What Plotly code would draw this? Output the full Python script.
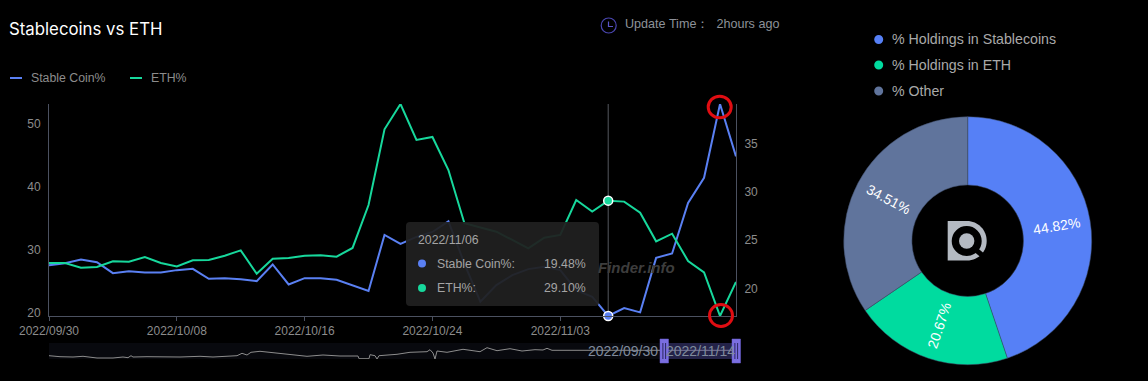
import math
import plotly.graph_objects as go

W, H = 1148, 381

dates = ["2022/09/30", "2022/10/01", "2022/10/02", "2022/10/03", "2022/10/04", "2022/10/05", "2022/10/06",
         "2022/10/07", "2022/10/08", "2022/10/09", "2022/10/10", "2022/10/11", "2022/10/12", "2022/10/13",
         "2022/10/14", "2022/10/15", "2022/10/16", "2022/10/17", "2022/10/18", "2022/10/19", "2022/10/20",
         "2022/10/21", "2022/10/22", "2022/10/23", "2022/10/24", "2022/10/25", "2022/10/26", "2022/10/27",
         "2022/10/28", "2022/10/30", "2022/10/31", "2022/11/02", "2022/11/03", "2022/11/04", "2022/11/05",
         "2022/11/06", "2022/11/07", "2022/11/08", "2022/11/09", "2022/11/10", "2022/11/11", "2022/11/12",
         "2022/11/13", "2022/11/14"]
stable_pct = [27.55, 27.87, 28.45, 28.02, 26.28, 26.60, 26.39, 26.39, 26.76, 26.97, 25.39, 25.49, 25.33, 25.02,
              27.66, 24.49, 25.49, 25.49, 25.23, 24.38, 23.44, 32.35, 30.93, 32.03, 32.82, 34.51, 27.81, 21.75,
              24.38, 25.97, 26.92, 27.29, 26.76, 23.59, 22.54, 19.48, 20.75, 20.06, 28.71, 29.40, 37.41, 41.42,
              53.13, 44.82]
eth_pct = [22.63, 22.63, 22.15, 22.21, 22.80, 22.77, 23.25, 22.63, 22.28, 22.91, 22.94, 23.39, 23.94, 21.52,
           23.08, 23.15, 23.39, 23.43, 23.29, 24.19, 28.65, 36.50, 39.13, 35.40, 35.71, 32.28, 26.75, 26.33,
           25.88, 25.02, 24.15, 25.26, 25.54, 29.17, 27.96, 29.10, 29.00, 27.85, 24.88, 25.67, 22.84, 21.66,
           17.13, 20.67]
x_ticks = ["2022/09/30", "2022/10/08", "2022/10/16", "2022/10/24", "2022/11/03"]
hover_date = "2022/11/06"
overview_pos = [0, 11, 24, 34, 48, 64, 74, 79, 82, 84, 98, 111, 131, 151, 164, 188, 193, 198, 202, 211, 221, 234,
                244, 258, 274, 291, 309, 310, 320, 321, 326, 328, 330, 348, 361, 378, 381, 384, 386, 388, 398,
                414, 431, 438, 448, 461, 473, 486, 494, 498, 503, 523, 539, 606, 687]
overview_val = [3.3, 2.3, 2.0, 2.7, 1.0, 1.0, 2.0, 1.3, 3.3, 2.0, 2.3, 2.0, 2.0, 2.7, 2.0, 3.3, 5.7, 4.0, 6.7, 7.7,
                6.7, 5.0, 4.3, 2.7, 4.0, 3.0, 3.0, 0.3, 0.3, 4.3, 3.3, 0.0, 3.3, 4.7, 6.7, 7.3, 9.3, 6.0, 0.0,
                8.0, 6.7, 9.7, 7.3, 11.3, 8.3, 10.3, 8.0, 9.3, 9.0, 10.7, 8.7, 8.7, 9.0, 9.3, 8.7]
pie_labels = ["% Holdings in Stablecoins", "% Holdings in ETH", "% Other"]
pie_values = [44.82, 20.67, 34.51]

BLUE, GREEN, SLATE = "#5a80f3", "#17d89c", "#60749c"
PIE_GREEN = "#00db9f"
AXIS = "#4b5160"
TICK = "#8c8c8c"
SANS = "Liberation Sans"
PIE_CX, PIE_CY, PIE_R = 967.7, 240.7, 124


def px(x):
    return x / W


def py(y):
    return 1 - y / H


def P(x, y):
    return f"{px(x):.5f} {py(y):.5f}"


fig = go.Figure()
fig.add_trace(go.Scatter(x=dates, y=stable_pct, mode="lines", name="Stable Coin%", line=dict(color=BLUE, width=2),
                         cliponaxis=False, yaxis="y"))
fig.add_trace(go.Scatter(x=dates, y=eth_pct, mode="lines", name="ETH%", line=dict(color=GREEN, width=2),
                         cliponaxis=False, yaxis="y2"))
h_i = dates.index(hover_date)
fig.add_trace(go.Scatter(x=[hover_date], y=[stable_pct[h_i]], mode="markers", cliponaxis=False, yaxis="y",
                         marker=dict(color=BLUE, size=9, line=dict(color="white", width=1.5))))
fig.add_trace(go.Scatter(x=[hover_date], y=[eth_pct[h_i]], mode="markers", cliponaxis=False, yaxis="y2",
                         marker=dict(color=GREEN, size=9, line=dict(color="white", width=1.5))))
fig.add_trace(go.Scatter(x=overview_pos, y=overview_val, mode="lines", xaxis="x3", yaxis="y3",
                         line=dict(color="#8d8d8d", width=1), cliponaxis=False))
fig.add_trace(go.Pie(labels=pie_labels, values=pie_values, hole=0.45, sort=False, direction="clockwise", rotation=0,
                     marker=dict(colors=["#5680f6", PIE_GREEN, SLATE], line=dict(color="#3c4a66", width=0.5)),
                     textinfo="none", automargin=False,
                     domain=dict(x=[px(PIE_CX - PIE_R), px(PIE_CX + PIE_R)], y=[py(PIE_CY + PIE_R), py(PIE_CY - PIE_R)]),
                     showlegend=False))

shapes = []
# crosshair
shapes.append(dict(type="line", xref="x", yref="paper", x0=hover_date, x1=hover_date, y0=py(316), y1=py(104),
                   line=dict(color="#55585f", width=1), layer="below"))
# overview strip
shapes.append(dict(type="rect", xref="paper", yref="paper", x0=px(49), x1=px(736), y0=py(359), y1=py(343),
                   fillcolor="#08090e", line_width=0, layer="below"))
shapes.append(dict(type="rect", xref="paper", yref="paper", x0=px(664), x1=px(736), y0=py(359), y1=py(343),
                   fillcolor="rgba(90,85,190,0.33)", line_width=0))
for a, b in [(660, 668.5), (732, 740.5)]:
    shapes.append(dict(type="rect", xref="paper", yref="paper", x0=px(a), x1=px(b), y0=py(363), y1=py(339),
                       fillcolor="#7a6ee0", line=dict(color="#6a5fd0", width=0.5)))
    for dx in (2.9, 5.6):
        shapes.append(dict(type="line", xref="paper", yref="paper", x0=px(a + dx), x1=px(a + dx), y0=py(359),
                           y1=py(343), line=dict(color="#2b2760", width=1)))
# tooltip
r = 4
x0, x1, y0, y1 = 406, 599, 222, 306
tip = (f"M {P(x0 + r, y0)} L {P(x1 - r, y0)} Q {P(x1, y0)} {P(x1, y0 + r)} L {P(x1, y1 - r)} Q {P(x1, y1)} {P(x1 - r, y1)} "
       f"L {P(x0 + r, y1)} Q {P(x0, y1)} {P(x0, y1 - r)} L {P(x0, y0 + r)} Q {P(x0, y0)} {P(x0 + r, y0)} Z")
shapes.append(dict(type="path", xref="paper", yref="paper", path=tip, fillcolor="rgba(32,32,32,0.94)", line_width=0))


def circle(cx, cy, rx, ry=None, fill=None, line=None, lw=0):
    ry = rx if ry is None else ry
    return dict(type="circle", xref="paper", yref="paper", x0=px(cx - rx), x1=px(cx + rx), y0=py(cy + ry),
                y1=py(cy - ry), fillcolor=fill or "rgba(0,0,0,0)",
                line=dict(color=line or "rgba(0,0,0,0)", width=lw))


shapes.append(circle(422, 263.5, 4, fill=BLUE))
shapes.append(circle(422, 288, 4, fill=GREEN))
# red highlight rings
shapes.append(circle(719.7, 107, 11.5, 10.8, line="#e00d12", lw=3))
shapes.append(circle(721, 315.5, 11.5, 11, line="#e00d12", lw=3))
# chart legend
for a, c in [(10, BLUE), (130, GREEN)]:
    shapes.append(dict(type="line", xref="paper", yref="paper", x0=px(a), x1=px(a + 12), y0=py(78), y1=py(78),
                       line=dict(color=c, width=2)))
# pie legend
for yy, c in zip((39.5, 65, 91), ("#5680f6", PIE_GREEN, SLATE)):
    shapes.append(circle(878.7, yy, 4.5, fill=c))
# clock
shapes.append(circle(608.7, 25.5, 7.5, line="#4a46b0", lw=1.2))
shapes.append(dict(type="path", xref="paper", yref="paper", path=f"M {P(608.5, 21.5)} L {P(608.5, 26.5)} L {P(613, 26.5)}",
                   line=dict(color="#5a55c8", width=1.2)))
# centre logo
lg = "#b4bac2"
d_path = (f"M {P(947.7, 221)} L {P(967, 221)} C {P(978, 221)} {P(986.7, 230)} {P(986.7, 241)} "
          f"C {P(986.7, 252)} {P(978, 260.5)} {P(967, 260.5)} L {P(947.7, 260.5)} Z")
shapes.append(dict(type="path", xref="paper", yref="paper", path=d_path, fillcolor=lg, line_width=0))
shapes.append(circle(966.7, 241, 15, fill="black"))
shapes.append(circle(966.7, 241, 7.7, fill=lg))
shapes.append(dict(type="line", xref="paper", yref="paper", x0=px(976), y0=py(250), x1=px(989), y1=py(261),
                   line=dict(color="black", width=5)))


def text(x, y, s, size=12, color=TICK, anchor="left", family=SANS, angle=0):
    return dict(xref="paper", yref="paper", x=px(x), y=py(y), text=s, showarrow=False, xanchor=anchor, yanchor="middle",
                font=dict(size=size, color=color, family=family), borderpad=0, borderwidth=0, textangle=angle)


ann = [
    text(9, 29, "Stablecoins vs ETH", 16.8, "#ffffff", family="Inter"),
    text(625, 24, "Update Time：  2hours ago", 12.6, "#8d9299"),
    text(31, 78, "Stable Coin%", 12.3, "#8c8c8c"),
    text(151, 78, "ETH%", 12.3, "#8c8c8c"),
    text(892, 39.5, pie_labels[0], 14.2, "#a9a9a9"),
    text(892, 65, pie_labels[1], 14.2, "#a9a9a9"),
    text(892, 91, pie_labels[2], 14.2, "#a9a9a9"),
    text(418, 240, hover_date, 12.3, "#a4a4a4"),
    text(437, 263.5, "Stable Coin%:", 12.3, "#a4a4a4"),
    text(437, 288, "ETH%:", 12.3, "#a4a4a4"),
    text(586, 263.5, f"{stable_pct[h_i]:.2f}%", 12.3, "#a4a4a4", "right"),
    text(586, 288, f"{eth_pct[h_i]:.2f}%", 12.3, "#a4a4a4", "right"),
    text(598, 267, "<b><i>Finder.info</i></b>", 15, "#3d3d3d"),
    text(623, 351, dates[0], 14, "#7f8a9c", "center"),
    text(700, 351, dates[-1], 14, "#7f8a9c", "center"),
]
# radial slice labels, placed from the pie values
cum = 0.0
for v in pie_values:
    mid = (cum + v / 2) / sum(pie_values) * 360
    cum += v
    rad = math.radians(mid)
    rot = mid - 90 if mid < 180 else mid - 270
    ann.append(text(PIE_CX + 90 * math.sin(rad), PIE_CY - 90 * math.cos(rad), f"{v:.2f}%", 14, "white", "center", angle=rot))

axis_font = dict(color=TICK, size=12, family=SANS)
fig.update_layout(
    width=W, height=H, margin=dict(l=0, r=0, t=0, b=0), autosize=False, paper_bgcolor="black", plot_bgcolor="black",
    showlegend=False, shapes=shapes, annotations=ann,
    xaxis=dict(domain=[px(49), px(736)], type="category", categoryorder="array", categoryarray=dates,
               range=[0, len(dates) - 1], tickmode="array", tickvals=x_ticks, ticktext=x_ticks, showgrid=False,
               zeroline=False, showline=True, linecolor=AXIS, linewidth=1, ticks="outside", ticklen=4,
               tickcolor=AXIS, tickfont=axis_font, anchor="y", automargin=False),
    yaxis=dict(domain=[py(316), py(104)], range=[19.48, 53.13], tickvals=[20, 30, 40, 50], showgrid=False,
               zeroline=False, showline=True, linecolor=AXIS, linewidth=1, ticks="", tickfont=axis_font,
               ticklabelstandoff=5, anchor="x", automargin=False),
    yaxis2=dict(domain=[py(316), py(104)], range=[17.13, 39.13], tickvals=[20, 25, 30, 35], overlaying="y",
                side="right", showgrid=False, zeroline=False, showline=True, linecolor=AXIS, linewidth=1, ticks="",
                tickfont=axis_font, ticklabelstandoff=5, anchor="x", automargin=False),
    xaxis3=dict(domain=[px(49), px(736)], range=[0, 687], visible=False, anchor="y3", automargin=False),
    yaxis3=dict(domain=[py(359), py(343)], range=[0, 16], visible=False, anchor="x3", automargin=False),
)

fig.write_html("out.html", config=dict(displayModeBar=False),
               post_script="document.body.style.margin='0';document.body.style.background='black';document.body.style.overflow='hidden';")
